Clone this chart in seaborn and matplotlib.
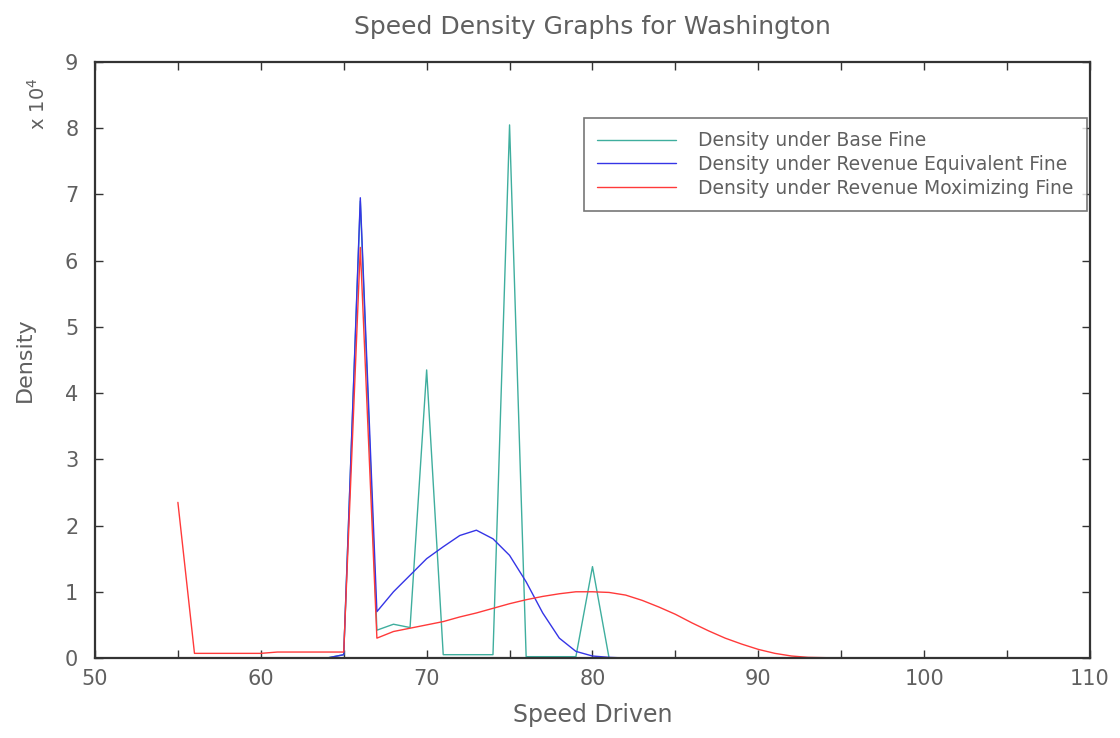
import numpy as np
import pandas as pd
import matplotlib
matplotlib.use("Agg")
import matplotlib.pyplot as plt
import seaborn as sns
from matplotlib.ticker import MultipleLocator

# speeds (mph) and densities in units of 1e-4
speed = list(range(55, 111))

base_fine = [0, 0, 0, 0, 0, 0, 0, 0, 0, 0, 0.05,
             6.9, 0.42, 0.51, 0.46, 4.35, 0.05, 0.05, 0.05, 0.05, 8.05,
             0.02, 0.02, 0.02, 0.02, 1.38, 0.0] + [0.0] * 29

rev_equiv = [0, 0, 0, 0, 0, 0, 0, 0, 0, 0, 0.05,
             6.95, 0.7, 1.0, 1.25, 1.5, 1.68, 1.85, 1.93, 1.8, 1.55,
             1.15, 0.68, 0.3, 0.1, 0.03, 0.01, 0.0, 0.0, 0.0, 0.0,
             0.0, 0.0, 0.0, 0.0, 0.0, 0.0, 0.0, 0.0, 0.0, 0.0] + [0.0] * 15

rev_max = [2.35, 0.07, 0.07, 0.07, 0.07, 0.07, 0.09, 0.09, 0.09, 0.09, 0.09,
           6.2, 0.3, 0.4, 0.45, 0.5, 0.55, 0.62, 0.68, 0.75, 0.82,
           0.88, 0.93, 0.97, 1.0, 1.0, 0.99, 0.95, 0.87, 0.77, 0.66,
           0.53, 0.41, 0.3, 0.21, 0.13, 0.07, 0.03, 0.01, 0.005, 0.0] + [0.0] * 15

labels = ["Density under Base Fine",
          "Density under Revenue Equivalent Fine",
          "Density under Revenue Moximizing Fine"]
colors = ["#3fae9e", "#3535e6", "#ff3a3a"]

df = pd.concat([
    pd.DataFrame({"speed": speed, "density": vals, "series": lab})
    for vals, lab in zip([base_fine, rev_equiv, rev_max], labels)
])

sns.set_style("ticks")
plt.rcParams["font.family"] = ["DejaVu Sans"]
txt = "#606060"

fig = plt.figure(figsize=(11.2, 7.38), dpi=100)
ax = fig.add_axes([0.0848, 0.1084, 0.8884, 0.8076])

sns.lineplot(data=df, x="speed", y="density", hue="series", hue_order=labels,
             palette=colors, linewidth=1.0, ax=ax)

ax.set_xlim(50, 110)
ax.set_ylim(0, 9)
ax.xaxis.set_major_locator(MultipleLocator(10))
ax.xaxis.set_minor_locator(MultipleLocator(5))
ax.yaxis.set_major_locator(MultipleLocator(1))
ax.tick_params(which="both", direction="in", top=True, right=True,
               colors="#333333", labelcolor=txt, labelsize=15, length=6, width=1)
ax.tick_params(axis="x", pad=8)
ax.tick_params(axis="y", pad=12)
for sp in ax.spines.values():
    sp.set_color("#333333")
    sp.set_linewidth(1.6)

ax.set_xlabel("Speed Driven", fontsize=17, color=txt, labelpad=10)
ax.set_ylabel("Density", fontsize=16, color=txt, labelpad=22)
ax.set_title("Speed Density Graphs for Washington", fontsize=18, color=txt, pad=20)
fig.text(0.034, 0.86, r"x 10$^4$", rotation=90, fontsize=14, color=txt,
         ha="center", va="center")

leg = ax.legend(loc="upper right", bbox_to_anchor=(0.997, 0.906), borderaxespad=0,
                fontsize=13.5, frameon=True, fancybox=False, handlelength=4.2,
                borderpad=0.7, labelspacing=0.25, handletextpad=1.2)
leg.get_frame().set_edgecolor("#555555")
leg.get_frame().set_linewidth(1.2)
for t in leg.get_texts():
    t.set_color(txt)

fig.savefig("out.png", dpi=100, facecolor="white")
